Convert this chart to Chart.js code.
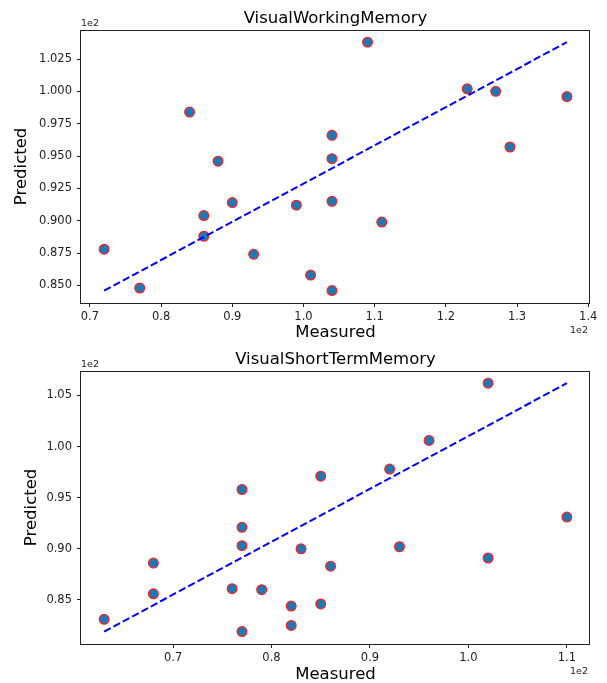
<!DOCTYPE html>
<html>
<head>
    <script src="https://cdn.jsdelivr.net/npm/chart.js@4.4.0/dist/chart.umd.min.js"></script>
    <style>
        body { margin: 0; background: #fff; }
        canvas { position: absolute; left: 0; }
    </style>
</head>
<body>
<canvas id="wmChart" width="607" height="341" style="top:0"></canvas>
<canvas id="stmChart" width="607" height="342" style="top:341px"></canvas>
<script>
// values are in the plotted units (axes show them x 1e2)
var wmMeasured = [72, 77, 84, 86, 86, 88, 90, 93, 99, 101, 104, 104, 104, 104, 109, 111, 123, 127, 129, 137];
var wmPredicted = [87.8, 84.8, 98.4, 90.4, 88.8, 94.6, 91.4, 87.4, 91.2, 85.8, 96.6, 94.8, 91.5, 84.6, 103.8, 89.9, 100.2, 100.0, 95.7, 99.6];
var wmXTicks = [70, 80, 90, 100, 110, 120, 130, 140];
var wmYTicks = [85, 87.5, 90, 92.5, 95, 97.5, 100, 102.5];

var stmMeasured = [63, 68, 68, 76, 77, 77, 77, 77, 79, 82, 82, 83, 85, 85, 86, 92, 93, 96, 102, 102, 110];
var stmPredicted = [83.1, 88.6, 85.6, 86.1, 95.8, 92.1, 90.3, 81.9, 86.0, 84.4, 82.5, 90.0, 97.1, 84.6, 88.3, 97.8, 90.2, 100.6, 106.2, 89.1, 93.1];
var stmXTicks = [70, 80, 90, 100, 110];
var stmYTicks = [85, 90, 95, 100, 105];

var FONT = "'DejaVu Sans', sans-serif";
var INK = '#222';

// box around the plot and the "1e2" offset labels, like matplotlib
var framePlugin = {
    id: 'frame',
    afterDraw: function(chart) {
        var ctx = chart.ctx, a = chart.chartArea;
        ctx.save();
        ctx.strokeStyle = INK;
        ctx.lineWidth = 1;
        ctx.strokeRect(Math.round(a.left) - 0.5, Math.round(a.top) + 0.5, Math.round(a.right - a.left), Math.round(a.bottom - a.top));
        ctx.fillStyle = INK;
        ctx.font = '9.5px ' + FONT;
        ctx.textBaseline = 'middle';
        ctx.textAlign = 'left';
        ctx.fillText('1e2', a.left, a.top - 6);
        ctx.textAlign = 'right';
        ctx.fillText('1e2', a.right - 2, a.bottom + 28);
        ctx.restore();
    }
};

function limits(vals) {
    var lo = Math.min.apply(null, vals), hi = Math.max.apply(null, vals), m = (hi - lo) * 0.05;
    return [lo - m, hi + m];
}

function makeChart(id, title, xs, ys, xTicks, yTicks, yDec, yTitlePad, xHeight) {
    var pts = xs.map(function(x, i) { return {x: x, y: ys[i]}; });
    var fit = [
        {x: Math.min.apply(null, xs), y: Math.min.apply(null, ys)},
        {x: Math.max.apply(null, xs), y: Math.max.apply(null, ys)}
    ];
    var xl = limits(xs), yl = limits(ys);
    return new Chart(document.getElementById(id), {
        type: 'scatter',
        data: {
            datasets: [{
                type: 'line',
                data: fit,
                borderColor: '#0000ff',
                borderWidth: 2,
                borderDash: [7.4, 3.2],
                pointRadius: 0,
                fill: false,
                order: 0
            }, {
                data: pts,
                backgroundColor: '#1f77b4',
                borderColor: '#ff2020',
                borderWidth: 1.2,
                pointRadius: 4.9,
                order: 1
            }]
        },
        options: {
            responsive: false,
            animation: false,
            layout: { padding: { top: 0, right: 17, left: 0, bottom: 0 } },
            plugins: {
                legend: { display: false },
                tooltip: { enabled: false },
                title: {
                    display: true,
                    text: title,
                    fullSize: false,
                    color: '#000',
                    font: { family: FONT, size: 16.5, weight: 'normal', lineHeight: 1.2 },
                    padding: { top: 9, bottom: 1 }
                }
            },
            scales: {
                x: {
                    type: 'linear',
                    min: xl[0],
                    max: xl[1],
                    border: { display: false },
                    grid: { drawOnChartArea: false, drawTicks: true, tickLength: 4, tickColor: INK },
                    afterBuildTicks: function(s) { s.ticks = xTicks.map(function(v) { return {value: v}; }); },
                    afterFit: function(s) { s.height = xHeight; },
                    ticks: {
                        color: INK,
                        padding: 3,
                        maxRotation: 0,
                        font: { family: FONT, size: 11.5 },
                        callback: function(v) { return (v / 100).toFixed(1); }
                    },
                    title: {
                        display: true,
                        text: 'Measured',
                        color: '#000',
                        font: { family: FONT, size: 16.5, lineHeight: 1 },
                        padding: { top: 0, bottom: 0 }
                    }
                },
                y: {
                    type: 'linear',
                    min: yl[0],
                    max: yl[1],
                    border: { display: false },
                    grid: { drawOnChartArea: false, drawTicks: true, tickLength: 4, tickColor: INK },
                    afterBuildTicks: function(s) { s.ticks = yTicks.map(function(v) { return {value: v}; }); },
                    afterFit: function(s) { s.width = 81; },
                    ticks: {
                        color: INK,
                        padding: 5,
                        font: { family: FONT, size: 11.5 },
                        callback: function(v) { return (v / 100).toFixed(yDec); }
                    },
                    title: {
                        display: true,
                        text: 'Predicted',
                        color: '#000',
                        font: { family: FONT, size: 16.5, lineHeight: 1.2 },
                        padding: { top: yTitlePad, bottom: 0 }
                    }
                }
            }
        },
        plugins: [framePlugin]
    });
}

makeChart('wmChart', 'VisualWorkingMemory', wmMeasured, wmPredicted, wmXTicks, wmYTicks, 3, 12, 38);
makeChart('stmChart', 'VisualShortTermMemory', stmMeasured, stmPredicted, stmXTicks, stmYTicks, 2, 22, 39);
</script>
</body>
</html>
